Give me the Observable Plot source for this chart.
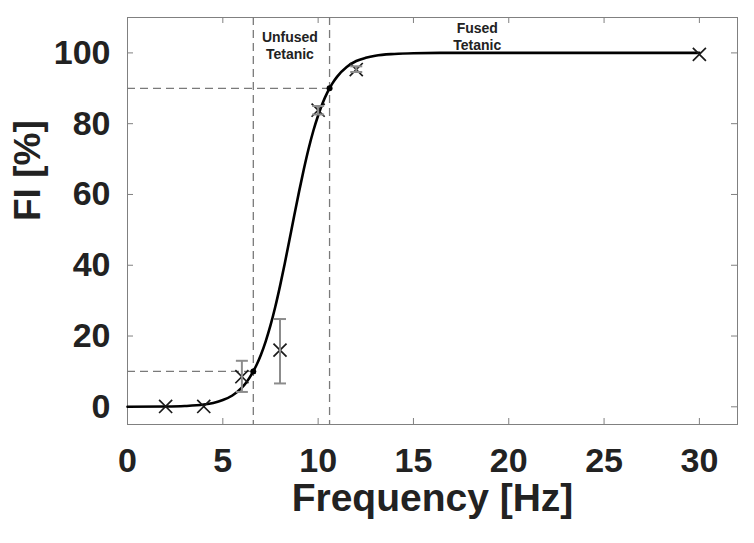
<!DOCTYPE html>
<html><head><meta charset="utf-8">
<script src="https://cdn.jsdelivr.net/npm/d3@7"></script>
<script src="https://cdn.jsdelivr.net/npm/@observablehq/plot@0.6"></script>
<style>
html,body{margin:0;padding:0;background:#fff}
#chart svg{display:block}
</style>
</head><body><div id="chart"></div>
<script>
// Fitted curve
const fitFreq = [0,2,3,4,4.5,5,5.5,6,6.25,6.5,6.75,7,7.25,7.5,7.75,8,8.25,8.5,8.75,9,9.25,9.5,9.75,10,10.25,10.5,10.75,11,11.5,12,12.5,13,14,15,17,20,25,30];
const fitFI   = [0.01,0.07,0.21,0.63,1.1,1.9,3.2,5.4,7.0,9.1,11.6,14.7,18.5,23.0,28.2,34.1,40.5,47.3,54.1,60.8,67.1,72.9,78.0,82.3,86.0,89.0,91.4,93.3,96.0,97.7,98.6,99.2,99.7,99.9,100,100,100,100];
// Measured points
const measFreq = [2,4,6,8,10,12,30];
const measFI   = [0.1,0.1,8.5,16,83.8,95.3,99.6];
const errLow   = [null,null,4.2,6.6,82.6,94.6,null];
const errHigh  = [null,null,13.0,24.8,85.0,96.2,null];
// Thresholds (10% and 90%)
const thrFreq = [6.6,10.6];
const thrFI   = [10,90];
// Region labels
const regionText = ["Unfused\nTetanic","Fused\nTetanic"];
const regionFreq = [8.52,18.35];
const regionFI   = [106.4,109.0];
// Axes
const xTicks = [0,5,10,15,20,25,30];
const yTicks = [0,20,40,60,80,100];
const xDomain = [0,32];
const yDomain = [-5,110];
const xLabel = "Frequency [Hz]";
const yLabel = "FI [%]";

const fit = fitFreq.map((f,i)=>({f, p: fitFI[i]}));
const meas = measFreq.map((f,i)=>({f, p: measFI[i], lo: errLow[i], hi: errHigh[i]}));
const errs = meas.filter(d=>d.lo!=null);
const thr = thrFreq.map((f,i)=>({f, p: thrFI[i]}));
const regions = regionText.map((t,i)=>({t, f: regionFreq[i], p: regionFI[i]}));

const capSymbol = {draw(ctx){ ctx.moveTo(-6,0); ctx.lineTo(6,0); }};

const W = 754, H = 543, mL = 127, mR = 17, mT = 17, mB = 119;
const fw = W - mL - mR, fh = H - mT - mB;
const frameCol = "#808080", textCol = "#222222", FONT = "Liberation Sans, Arial, Helvetica, sans-serif";

const chart = Plot.plot({
  width: W, height: H,
  marginLeft: mL, marginRight: mR, marginTop: mT, marginBottom: mB,
  style: {fontFamily: FONT, background: "#fff", color: textCol},
  x: {domain: xDomain},
  y: {domain: yDomain},
  marks: [
    Plot.frame({stroke: frameCol, strokeWidth: 1}),
    // inward ticks
    Plot.tickX(xTicks, {x: d=>d, insetTop: fh-6, stroke: frameCol}),
    Plot.tickX(xTicks, {x: d=>d, insetBottom: fh-6, stroke: frameCol}),
    Plot.tickY(yTicks, {y: d=>d, insetRight: fw-6, stroke: frameCol}),
    Plot.tickY(yTicks, {y: d=>d, insetLeft: fw-6, stroke: frameCol}),
    // tick labels
    Plot.axisX(xTicks, {anchor: "bottom", tickSize: 0, tickPadding: 23, fontSize: 34, fontWeight: "bold", fill: textCol, label: null}),
    Plot.axisY(yTicks, {anchor: "left", tickSize: 0, tickPadding: 17, fontSize: 34, fontWeight: "bold", fill: textCol, label: null}),
    // axis titles
    Plot.text([xLabel], {frameAnchor: "bottom", text: d=>d, dy: 59, lineAnchor: "top", fontSize: 39, fontWeight: "bold", fill: textCol}),
    Plot.text([yLabel], {frameAnchor: "left", text: d=>d, dx: -99, rotate: -90, lineAnchor: "middle", fontSize: 37, fontWeight: "bold", fill: textCol}),
    // threshold dashed lines
    Plot.ruleX(thr, {x: "f", stroke: "#7a7a7a", strokeWidth: 1.3, strokeDasharray: "8,5"}),
    Plot.ruleY(thr, {y: "p", x1: xDomain[0], x2: "f", stroke: "#7a7a7a", strokeWidth: 1.3, strokeDasharray: "8,5"}),
    // fitted curve
    Plot.line(fit, {x: "f", y: "p", curve: "monotone-x", stroke: "#000", strokeWidth: 2.6}),
    // markers
    Plot.dot(meas, {x: "f", y: "p", symbol: "times", r: 6, stroke: "#1a1a1a", strokeWidth: 1.7}),
    // error bars
    Plot.ruleX(errs, {x: "f", y1: "lo", y2: "hi", stroke: "#8c8c8c", strokeWidth: 2}),
    Plot.dot(errs, {x: "f", y: "lo", symbol: capSymbol, stroke: "#8c8c8c", strokeWidth: 2}),
    Plot.dot(errs, {x: "f", y: "hi", symbol: capSymbol, stroke: "#8c8c8c", strokeWidth: 2}),
    // threshold dots
    Plot.dot(thr, {x: "f", y: "p", r: 3, fill: "#000"}),
    // region labels
    Plot.text(regions, {x: "f", y: "p", text: "t", lineAnchor: "top", lineHeight: 1.2, fontSize: 14, fontWeight: "bold", fill: textCol})
  ]
});
document.getElementById("chart").appendChild(chart);
</script>
</body></html>
